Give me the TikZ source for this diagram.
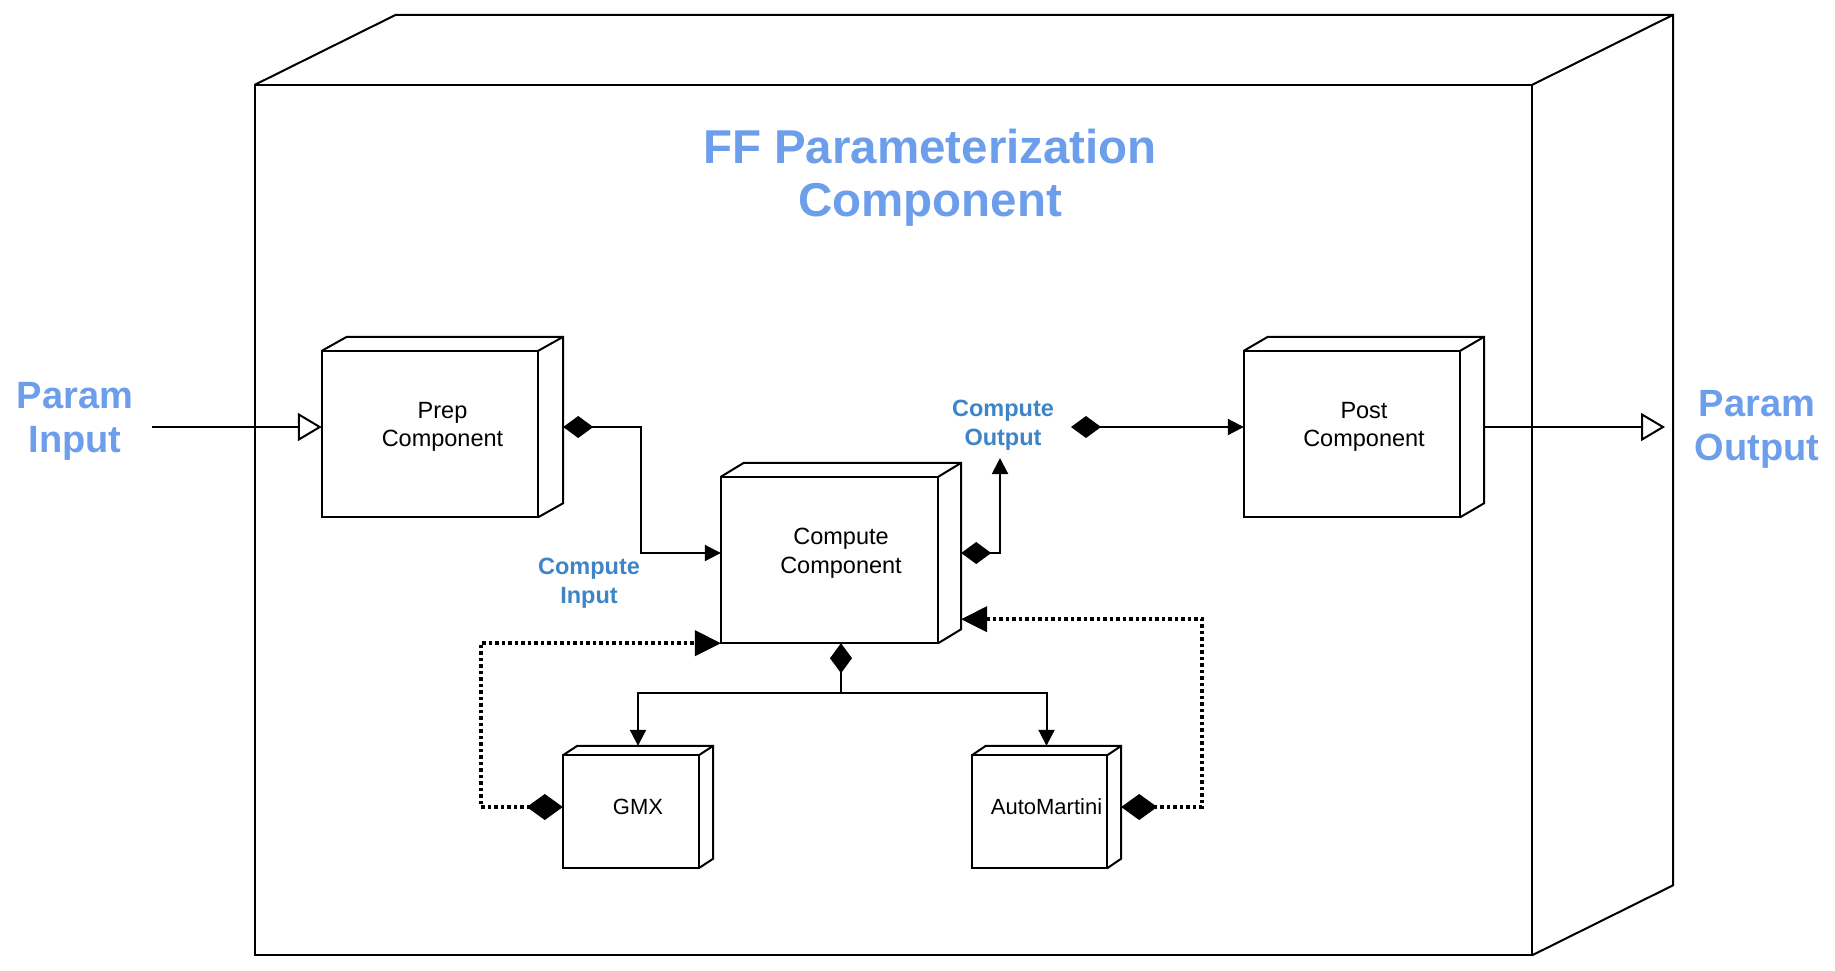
\documentclass[tikz,border=0pt]{standalone}
\usepackage{fontspec}
\setmainfont{Liberation Sans}
\usetikzlibrary{arrows.meta,calc}
\definecolor{titleblue}{HTML}{6D9EEB}
\definecolor{labelblue}{HTML}{3D85C6}
\newcommand\cubeshape[8]{%
  \node[cubelbl, minimum width=#4, minimum height=#5] (#1) at (#2,#3) {#8};
  \draw[boxline] (#1.south west) rectangle ($(#1.north east)+(-#6,#7)$);
  \draw[boxline] ($(#1.north west)+(0,#7)$) -- ($(#1.north west)+(#6,0)$) -- (#1.north east) -- ($(#1.south east)+(0,-#7)$) -- ($(#1.south east)+(-#6,0)$);
  \draw[boxline] ($(#1.north east)+(-#6,#7)$) -- (#1.north east);
}
\begin{document}
\begin{tikzpicture}[x=1pt,y=-1pt,
  boxline/.style={line width=2pt, draw=black, line join=miter},
  cubelbl/.style={inner sep=0pt, draw=none, align=center, font=\fontsize{23.5}{28.5}\selectfont},
  conn/.style={line width=2pt, draw=black},
  dotline/.style={line width=3.5pt, draw=black, dash pattern=on 3.5pt off 3pt},
  titletxt/.style={align=center, inner sep=0pt, text=titleblue, font=\fontsize{47.5}{53}\selectfont\bfseries},
  paramtxt/.style={align=center, inner sep=0pt, text=titleblue, font=\fontsize{38}{44}\selectfont\bfseries},
  portlbl/.style={align=center, inner sep=0pt, text=labelblue, font=\fontsize{23.5}{29}\selectfont\bfseries},
  dia/.tip={Diamond[length=30pt,width=22pt]},
  bigdia/.tip={Diamond[length=36pt,width=26pt,line width=1pt]},
  blk/.tip={Triangle[length=16pt,width=16pt]},
  bigblk/.tip={Triangle[length=26pt,width=26pt,line width=1pt]},
  opentri/.tip={Triangle[open,length=24pt,width=28pt]}
]
\fill[white] (0,0) rectangle (1835,970);
\useasboundingbox (0,0) rectangle (1835,970);

% outer system cube
\cubeshape{sys}{964}{485}{1418}{940}{141}{70}{}
\node[titletxt] (title) at (930,178) {FF Parameterization\\Component};

% inner components
\cubeshape{prep}{442.5}{427}{241}{180}{25}{14}{Prep\\Component}
\cubeshape{compute}{841}{553}{240}{180}{23}{14}{Compute\\Component}
\cubeshape{post}{1364}{427}{240}{180}{24}{14}{Post\\Component}
\cubeshape{gmx}{638}{807}{150}{122}{14.5}{9.5}{\fontsize{22}{26}\selectfont GMX}
\cubeshape{auto}{1046.5}{807}{149}{122}{14}{9.5}{\fontsize{22}{26}\selectfont AutoMartini}

% labels
\node[paramtxt] (pinlbl) at (75,421) {Param\\Input};
\node[paramtxt] (poutlbl) at (1757,429) {Param\\Output};
\node[portlbl] (cinlbl) at (589,583) {Compute\\Input};
\node[portlbl] (coutlbl) at (1003,425) {Compute\\Output};

% helper coordinates
\coordinate (pin) at (152,427);
\coordinate (pout) at (1665,427);
\coordinate (cout) at (1000,458);
\coordinate (dsrc) at (1071,427);
\coordinate (split) at ($(compute.south)+(0,50)$);
\coordinate (cin) at ($(compute.south east)+(0,-24)$);

% connectors
\draw[conn,-opentri] (pin) -- (prep.west);
\draw[conn,-opentri] (post.east) -- (pout);
\draw[conn,dia-blk] (prep.east) -- ++(78,0) |- (compute.west);
\draw[conn,dia-blk] (compute.east) -| (cout);
\draw[conn,dia-blk] (dsrc) -- (post.west);
\draw[conn,dia-blk] (compute.south) -- (split) -| (gmx.north);
\draw[conn,-blk] (split) -| (auto.north);
\draw[dotline,bigdia-bigblk] (gmx.west) -- ++(-82,0) |- (compute.south west);
\draw[dotline,bigdia-bigblk] (auto.east) -- ++(81,0) |- (cin);
\end{tikzpicture}
\end{document}
